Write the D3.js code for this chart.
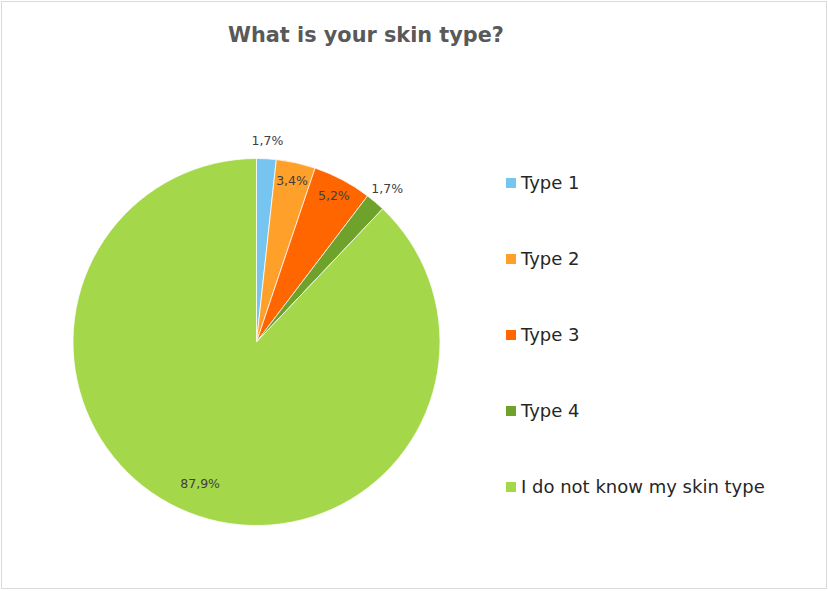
<!DOCTYPE html>
<html>
<head>
<meta charset="utf-8">
<script src="https://cdn.jsdelivr.net/npm/d3@7"></script>
<style>
  body { margin: 0; background: #fff; }
  svg { display: block; font-family: "DejaVu Sans", sans-serif; }
</style>
</head>
<body>
<svg id="chart" width="828" height="591"></svg>
<script>
const title = "What is your skin type?";
const categories = ["Type 1", "Type 2", "Type 3", "Type 4", "I do not know my skin type"];
const counts = [1, 2, 3, 1, 51];
const colors = ["#75C5F0", "#FFA02A", "#FF6600", "#6FA22A", "#A5D74A"];
// label placement: outside for the two thin slices
const labelOutside = [true, false, false, true, false];

const width = 828, height = 591;
const cx = 256.5, cy = 342, radius = 183.5;

const svg = d3.select("#chart");
const fmt = d3.format(".1f");
const total = d3.sum(counts);
const pctLabel = (v) => fmt(v / total * 100).replace(".", ",") + "%";

svg.append("rect")
  .attr("x", 1.5).attr("y", 1.5)
  .attr("width", width - 3).attr("height", height - 4)
  .attr("fill", "#fff")
  .attr("stroke", "#d9d9d9");

svg.append("text")
  .attr("x", 366).attr("y", 42)
  .attr("text-anchor", "middle")
  .attr("font-size", 20.8)
  .attr("font-weight", "bold")
  .attr("fill", "#595959")
  .text(title);

const data = categories.map((c, i) => ({ name: c, value: counts[i], color: colors[i], outside: labelOutside[i] }));

const pie = d3.pie().sort(null).value((d) => d.value);
const arc = d3.arc().innerRadius(0).outerRadius(radius);
const arcs = pie(data);

const g = svg.append("g").attr("transform", `translate(${cx},${cy})`);

g.selectAll("path")
  .data(arcs)
  .join("path")
  .attr("d", arc)
  .attr("fill", (d) => d.data.color)
  .attr("stroke", "#fff")
  .attr("stroke-width", 0.75);

const inArc = d3.arc().innerRadius(radius * 0.9).outerRadius(radius * 0.9);
const outArc = d3.arc().innerRadius(radius * 1.1).outerRadius(radius * 1.1);
const bigArc = d3.arc().innerRadius(radius * 0.83).outerRadius(radius * 0.83);

g.selectAll("text.lbl")
  .data(arcs)
  .join("text")
  .attr("class", "lbl")
  .attr("transform", (d, i) => {
    let p;
    if (d.data.outside) p = outArc.centroid(d);
    else if (i === 4) p = bigArc.centroid(d);
    else p = inArc.centroid(d);
    return `translate(${p})`;
  })
  .attr("text-anchor", "middle")
  .attr("dy", "0.35em")
  .attr("font-size", 12.5)
  .attr("fill", "#404040")
  .text((d) => pctLabel(d.data.value));

const legendY = d3.scalePoint().domain(categories).range([183, 487]);

const legend = svg.append("g")
  .selectAll("g")
  .data(data)
  .join("g")
  .attr("transform", (d) => `translate(506,${legendY(d.name)})`);

legend.append("rect")
  .attr("x", 0).attr("y", -5)
  .attr("width", 10).attr("height", 10)
  .attr("fill", (d) => d.color);

legend.append("text")
  .attr("x", 15).attr("y", 0)
  .attr("dy", "0.35em")
  .attr("font-size", 18)
  .attr("fill", "#262626")
  .text((d) => d.name);
</script>
</body>
</html>
